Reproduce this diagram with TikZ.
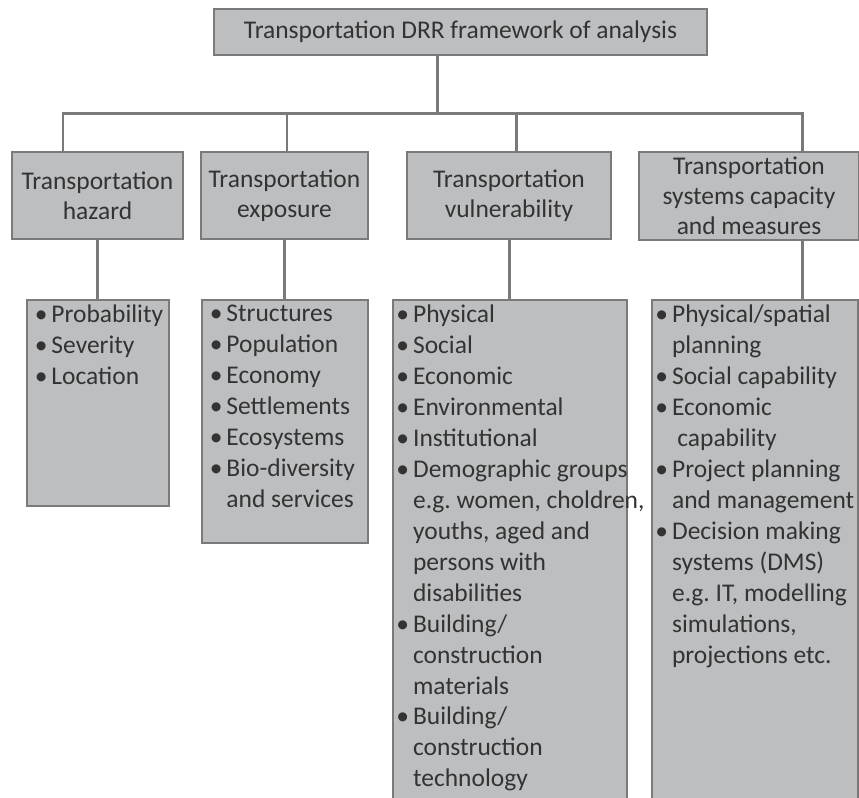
\documentclass[tikz,border=0pt]{standalone}
\usepackage{fontspec}
\setmainfont{Carlito}
\definecolor{boxfill}{HTML}{BCBEC0}
\definecolor{boxline}{HTML}{7A7A7A}
\definecolor{linkgray}{HTML}{7A7A7A}
\definecolor{textgray}{HTML}{333333}
\newlength{\bulw}\setlength{\bulw}{9.5pt}
\newcommand{\itm}[1]{\par\noindent\hangindent=\bulw\hangafter=1\makebox[\bulw][l]{\textbullet}#1}
\newcommand{\lst}[3]{\parbox[t][#2][t]{#1}{\rightskip=-1cm plus 1fil\frenchspacing#3}}

\begin{document}
\begin{tikzpicture}[x=0.2mm, y=-0.2mm,
    box/.style={draw=boxline, line width=1pt, fill=boxfill, text=textgray, inner sep=0pt},
    head/.style={box, align=center, font=\fontsize{14.5pt}{17pt}\selectfont},
    lstbox/.style={box, anchor=north west, inner xsep=4.5pt, inner ysep=3pt, font=\fontsize{14.5pt}{17.6pt}\selectfont},
    link/.style={draw=linkgray, line width=1.7pt}]
  \useasboundingbox (0,0) rectangle (859,797);
  \clip (0,0) rectangle (859,797);

  % Caixa de topo
  \node[head, minimum width=9.86cm, minimum height=0.92cm] (top) at (460.5,32) {Transportation DRR framework of analysis};

  % Categorias
  \node[head, minimum width=3.42cm, minimum height=1.74cm] (haz) at (97.5,195.5) {Transportation\\hazard};
  \node[head, minimum width=3.34cm, minimum height=1.74cm] (expo) at (284.5,195.5) {Transportation\\exposure};
  \node[head, minimum width=4.08cm, minimum height=1.74cm] (vul) at (509,195.5) {Transportation\\vulnerability};
  \node[head, minimum width=4.4cm, minimum height=1.76cm] (cap) at (749,196) {Transportation\\systems capacity\\and measures};

  % Listas
  \node[lstbox] (hazL) at (26,299) {\lst{2.52cm}{3.91cm}{%
      \itm{Probability}\itm{Severity}\itm{Location}}};
  \node[lstbox] (expoL) at (201,299) {\lst{3.0cm}{4.65cm}{%
      \itm{Structures}\itm{Population}\itm{Economy}\itm{Settlements}%
      \itm{Ecosystems}\itm{Bio-diversity\newline and services}}};
  \node[lstbox, inner xsep=2pt] (vulL) at (392,299) {\lst{4.54cm}{10.3cm}{%
      \itm{Physical}\itm{Social}\itm{Economic}\itm{Environmental}\itm{Institutional}%
      \itm{Demographic groups\newline e.g. women, choldren,\newline youths, aged and\newline persons with\newline disabilities}%
      \itm{Building/\newline construction\newline materials}%
      \itm{Building/\newline construction\newline technology}}};
  \node[lstbox, inner xsep=2pt] (capL) at (651,299) {\lst{3.98cm}{10.3cm}{%
      \itm{Physical/spatial\newline planning}\itm{Social capability}%
      \itm{Economic\newline\hspace*{3pt}capability}%
      \itm{Project planning\newline and management}%
      \itm{Decision making\newline systems (DMS)\newline e.g. IT, modelling\newline simulations,\newline projections etc.}}};

  % Ligacoes
  \coordinate (hub) at (437,113);
  \coordinate (b1) at (63,113);
  \coordinate (b2) at (287,113);
  \coordinate (b3) at (516,113);
  \coordinate (b4) at (802,113);
  \draw[link] (top.south -| hub) -- (hub);
  \draw[link] (haz.north -| b1) -- (b1) -- (b4) -- (cap.north -| b4);
  \draw[link] (b2) -- (expo.north -| b2);
  \draw[link] (b3) -- (vul.north -| b3);
  \draw[link] (haz.south) -- (haz.south |- hazL.north);
  \draw[link] (expo.south) -- (expo.south |- expoL.north);
  \draw[link] (vul.south) -- (vul.south |- vulL.north);
  \draw[link] (cap.south -| b4) -- (capL.north -| b4);
\end{tikzpicture}
\end{document}
